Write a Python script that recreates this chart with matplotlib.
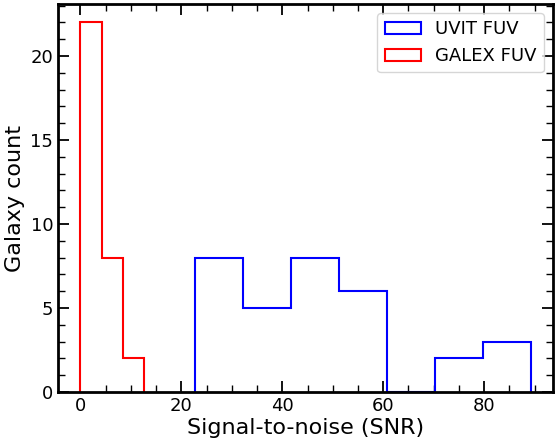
import numpy as np
import matplotlib
matplotlib.use("Agg")
import matplotlib.pyplot as plt
from matplotlib.ticker import MultipleLocator

# bin edges and counts
uvit_edges = [22.7, 32.2, 41.7, 51.2, 60.7, 70.2, 79.7, 89.2]
uvit_counts = [8, 5, 8, 6, 0, 2, 3]
galex_edges = [0.0, 4.17, 8.33, 12.5]
galex_counts = [22, 8, 2]

fig = plt.figure(figsize=(5.55, 4.4), dpi=100)
ax = fig.add_axes([0.1045, 0.109, 0.8919, 0.882])

ax.hist(uvit_edges[:-1], bins=uvit_edges, weights=uvit_counts,
        histtype="step", color="blue", lw=1.5, label="UVIT FUV")
ax.hist(galex_edges[:-1], bins=galex_edges, weights=galex_counts,
        histtype="step", color="red", lw=1.5, label="GALEX FUV")

ax.set_xlabel("Signal-to-noise (SNR)", fontsize=16, labelpad=2)
ax.set_ylabel("Galaxy count", fontsize=16)

ax.xaxis.set_major_locator(MultipleLocator(20))
ax.xaxis.set_minor_locator(MultipleLocator(5))
ax.yaxis.set_major_locator(MultipleLocator(5))
ax.yaxis.set_minor_locator(MultipleLocator(1))
ax.tick_params(which="both", direction="in", top=True, right=True, labelsize=13)
ax.tick_params(which="major", length=8, width=1.3)
ax.tick_params(which="minor", length=5, width=1.0)
for s in ax.spines.values():
    s.set_linewidth(2)

ax.legend(loc="upper right", fontsize=13)

fig.savefig("out.png", dpi=100)
